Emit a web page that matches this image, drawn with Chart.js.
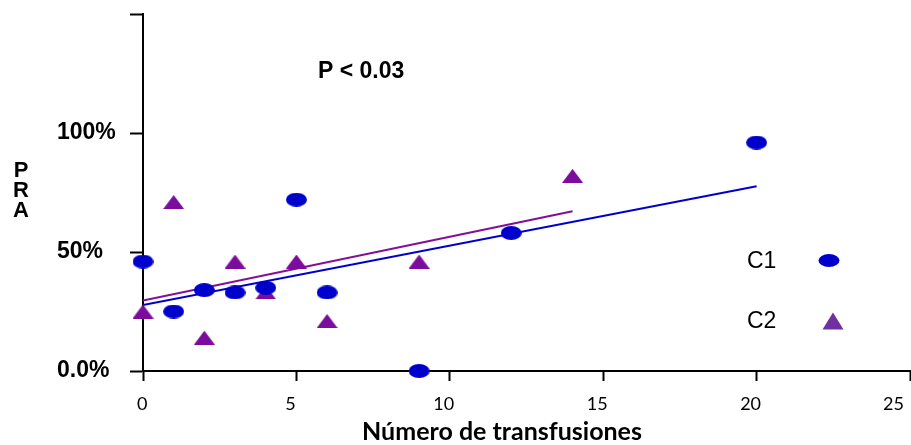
<!DOCTYPE html>
<html>
<head>
<meta charset="utf-8">
<title>PRA vs número de transfusiones</title>
<script src="https://cdn.jsdelivr.net/npm/chart.js@4.4.1/dist/chart.umd.min.js"></script>
<style>
  html, body { margin: 0; padding: 0; background: #fff; overflow: hidden; }
  /* 4px más ancho: Chart.js reserva ese margen a la derecha */
  #wrap { position: relative; width: 915px; height: 445px; }
</style>
</head>
<body>
<div id="wrap"><canvas id="pra-chart"></canvas></div>
<script>
  // Datos
  const c1Transfusiones = [0, 1, 2, 3, 4, 5, 6, 9, 12, 20];
  const c1Pra = [46, 25, 34, 33, 35, 72, 33, 0, 58, 96];
  const c2Transfusiones = [0, 1, 2, 3, 4, 5, 6, 9, 14];
  const c2Pra = [25, 71, 14, 46, 33, 46, 21, 46, 82];
  const xTicks = [0, 5, 10, 15, 20, 25];
  const yTicks = [0, 50, 100, 150];
  const yTickLabels = ['0.0%', '50%', '100%', ''];
  const seriesNames = ['C1', 'C2'];

  const BLUE = '#0000cc';
  const PURPLE = '#7b0c9c';
  const PURPLE_LINE = '#820f98';
  const PURPLE_LEGEND = '#7030a0';
  const ARIAL = "'Liberation Sans', Arial, sans-serif";

  function toPoints(xs, ys) {
    return xs.map((x, i) => ({ x: x, y: ys[i] }));
  }

  // recta de mínimos cuadrados, de x mínimo a x máximo
  function linearFit(xs, ys) {
    const n = xs.length;
    const mx = xs.reduce((a, b) => a + b, 0) / n;
    const my = ys.reduce((a, b) => a + b, 0) / n;
    let sxy = 0, sxx = 0;
    for (let i = 0; i < n; i++) {
      sxy += (xs[i] - mx) * (ys[i] - my);
      sxx += (xs[i] - mx) * (xs[i] - mx);
    }
    const m = sxy / sxx;
    const b = my - m * mx;
    const x0 = Math.min(...xs), x1 = Math.max(...xs);
    return [{ x: x0, y: b + m * x0 }, { x: x1, y: b + m * x1 }];
  }

  function ellipseMarker(w, h, color) {
    const c = document.createElement('canvas');
    c.width = w; c.height = h;
    const g = c.getContext('2d');
    g.fillStyle = color;
    g.beginPath();
    g.ellipse(w / 2, h / 2, w / 2, h / 2, 0, 0, Math.PI * 2);
    g.fill();
    return c;
  }

  function triangleMarker(w, h, color) {
    const c = document.createElement('canvas');
    c.width = w; c.height = h;
    const g = c.getContext('2d');
    g.fillStyle = color;
    g.beginPath();
    g.moveTo(w / 2, 0);
    g.lineTo(w, h);
    g.lineTo(0, h);
    g.closePath();
    g.fill();
    return c;
  }

  const ellipse = ellipseMarker(21, 14, BLUE);
  const triangle = triangleMarker(21, 14, PURPLE);

  // textos sueltos: P < 0.03, título de ejes y leyenda
  const annotations = {
    id: 'annotations',
    afterDraw(chart) {
      const ctx = chart.ctx;
      ctx.save();
      ctx.fillStyle = '#000';
      ctx.textBaseline = 'middle';

      ctx.font = 'bold 23px ' + ARIAL;
      ctx.textAlign = 'left';
      ctx.fillText('P < 0.03', 318, 72);

      ctx.font = 'bold 22px ' + ARIAL;
      ctx.textAlign = 'center';
      ['P', 'R', 'A'].forEach((l, i) => ctx.fillText(l, 21, 171 + i * 20));

      ctx.font = 'bold 25px Lato, ' + ARIAL;
      ctx.fillText('Número de transfusiones', 502, 432);

      ctx.font = '23px ' + ARIAL;
      ctx.textAlign = 'left';
      ctx.fillText(seriesNames[0], 747, 262);
      ctx.fillText(seriesNames[1], 747, 322);

      ctx.fillStyle = BLUE;
      ctx.beginPath();
      ctx.ellipse(829, 260.5, 10.5, 6.5, 0, 0, Math.PI * 2);
      ctx.fill();

      ctx.fillStyle = PURPLE_LEGEND;
      ctx.beginPath();
      ctx.moveTo(833, 312.5);
      ctx.lineTo(843.5, 329.5);
      ctx.lineTo(822.5, 329.5);
      ctx.closePath();
      ctx.fill();
      ctx.restore();
    }
  };

  new Chart(document.getElementById('pra-chart'), {
    type: 'scatter',
    data: {
      datasets: [{
        label: seriesNames[0],
        data: toPoints(c1Transfusiones, c1Pra),
        pointStyle: ellipse,
        backgroundColor: BLUE,
        clip: false,
        order: 0
      }, {
        label: seriesNames[1],
        data: toPoints(c2Transfusiones, c2Pra),
        pointStyle: triangle,
        backgroundColor: PURPLE,
        clip: false,
        order: 1
      }, {
        label: seriesNames[0] + ' tendencia',
        data: linearFit(c1Transfusiones, c1Pra),
        showLine: true,
        borderColor: BLUE,
        borderWidth: 2,
        pointRadius: 0,
        order: 2
      }, {
        label: seriesNames[1] + ' tendencia',
        data: linearFit(c2Transfusiones, c2Pra),
        showLine: true,
        borderColor: PURPLE_LINE,
        borderWidth: 2,
        pointRadius: 0,
        order: 3
      }]
    },
    options: {
      responsive: true,
      maintainAspectRatio: false,
      animation: false,
      layout: { padding: { top: 14, right: 1, left: 57, bottom: 0 } },
      scales: {
        x: {
          type: 'linear',
          min: xTicks[0],
          max: xTicks[xTicks.length - 1],
          afterBuildTicks: scale => { scale.ticks = xTicks.map(v => ({ value: v })); },
          afterFit: scale => {
            scale.height = 74;
            scale.paddingLeft = 0;
            scale.paddingRight = 0;
          },
          grid: {
            drawOnChartArea: false,
            tickLength: 10,
            tickWidth: 2,
            tickColor: '#000'
          },
          border: { color: '#000', width: 2 },
          ticks: {
            color: '#000',
            padding: 12,
            align: 'inner',
            labelOffset: -6,
            maxRotation: 0,
            font: { family: 'Lato', size: 18 }
          }
        },
        y: {
          type: 'linear',
          min: yTicks[0],
          max: yTicks[yTicks.length - 1],
          afterBuildTicks: scale => { scale.ticks = yTicks.map(v => ({ value: v })); },
          afterFit: scale => {
            scale.width = 86;
            scale.paddingTop = 0;
            scale.paddingBottom = 0;
          },
          grid: {
            drawOnChartArea: false,
            tickLength: 13,
            tickWidth: 2,
            tickColor: '#000'
          },
          border: { color: '#000', width: 2 },
          ticks: {
            color: '#000',
            crossAlign: 'far',
            font: { family: "'Liberation Sans', Arial", size: 23, weight: 'bold' },
            callback: (value) => yTickLabels[yTicks.indexOf(value)]
          }
        }
      },
      plugins: {
        legend: { display: false },
        tooltip: { enabled: false }
      }
    },
    plugins: [annotations]
  });
</script>
</body>
</html>
